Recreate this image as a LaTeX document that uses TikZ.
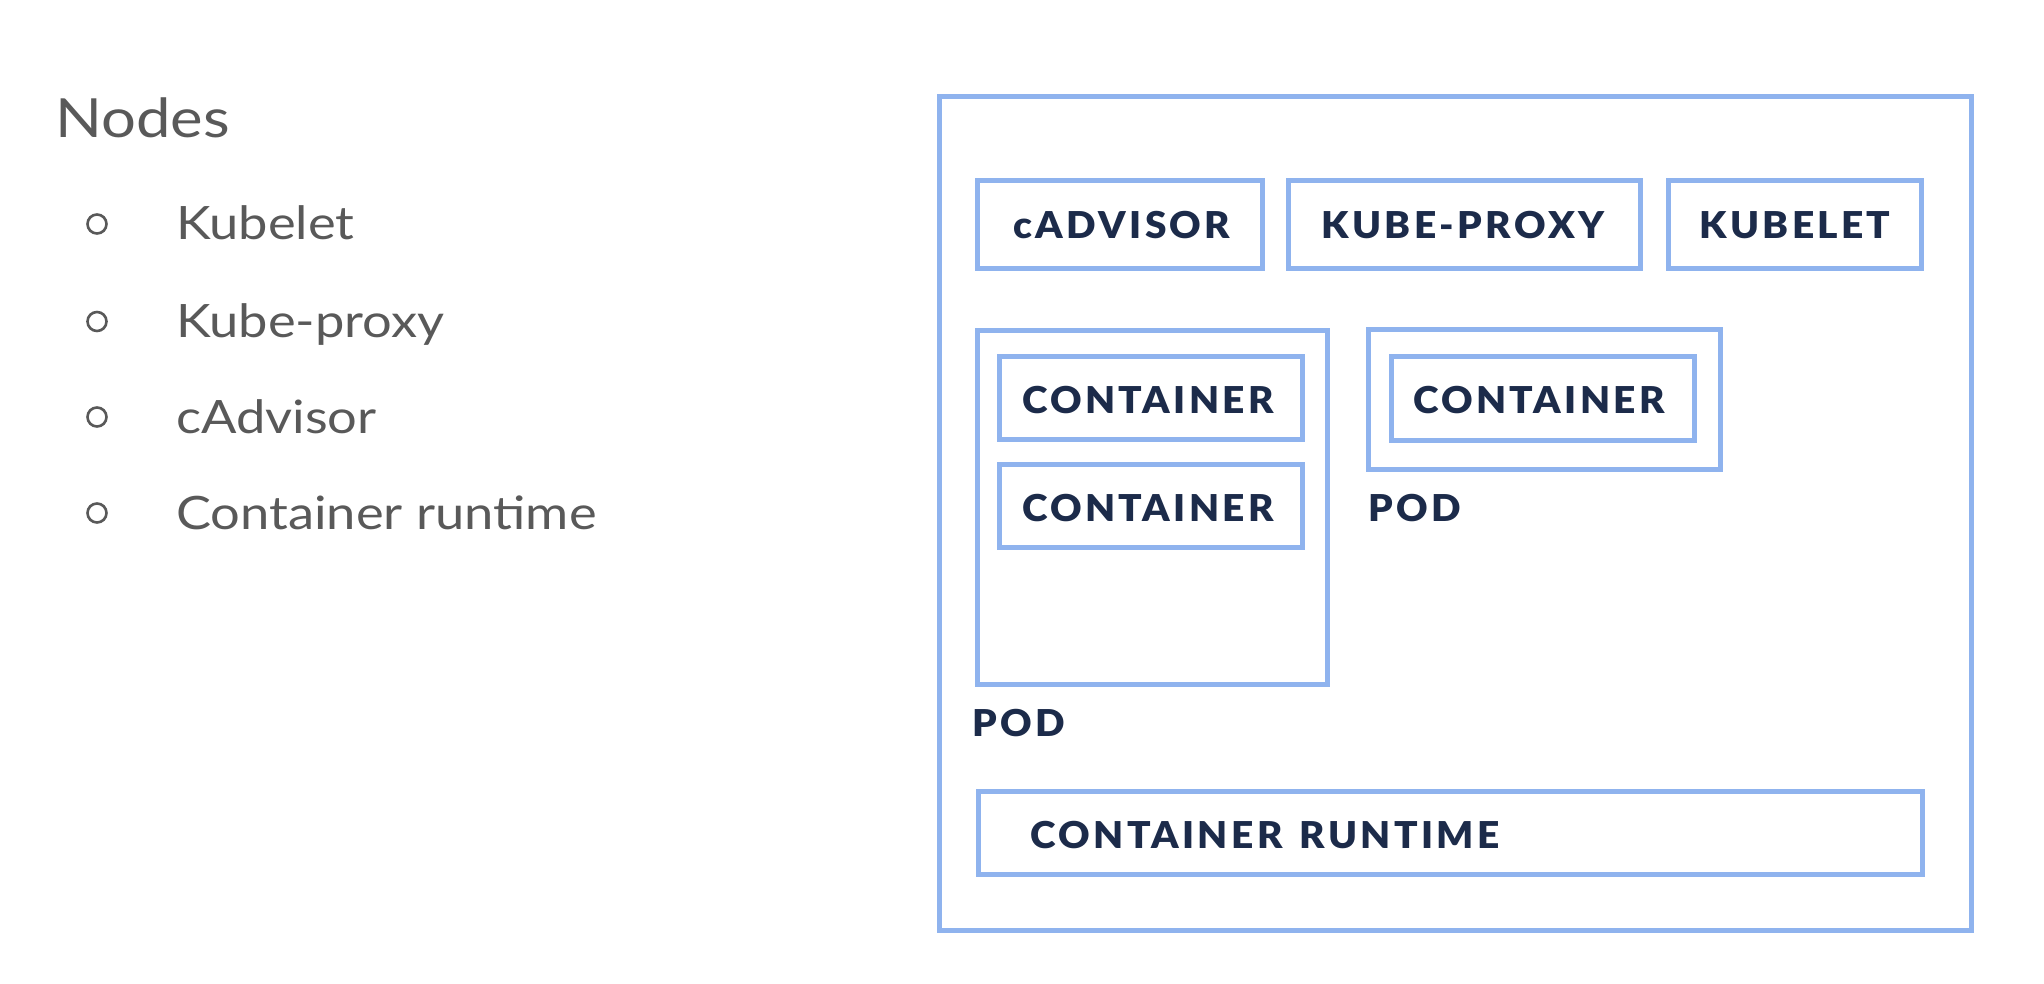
\documentclass[tikz,border=0pt]{standalone}
\usepackage{fontspec}
\setmainfont{Lato}[FakeStretch=1.14]
\newfontfamily\boxfont[LetterSpace=9,FakeStretch=1.05]{Lato Black}
\definecolor{kblue}{HTML}{8FB3EE}
\definecolor{knavy}{HTML}{1C2B4A}
\definecolor{kgrey}{HTML}{595959}
\tikzset{
  frame/.style={draw=kblue, line width=5pt, inner sep=0pt, outer sep=0pt, rectangle},
  lbl/.style={text=knavy, font=\boxfont\fontsize{37}{40}\selectfont, inner sep=0pt},
  item/.style={text=kgrey, font=\fontsize{46}{50}\selectfont, inner sep=0pt, anchor=base west},
  bul/.style={circle, draw=kgrey, line width=2.6pt, minimum width=19pt, minimum height=19pt, inner sep=0pt}
}
\begin{document}
\begin{tikzpicture}[x=1pt,y=-1pt]
\useasboundingbox (0,0) rectangle (2044,984);
% left list
\node[item, font=\fontsize{54}{58}\selectfont] (title) at (55,138) {Nodes};
\node[bul] (b1) at (97,224) {};
\node[bul] (b2) at (97,321.5) {};
\node[bul] (b3) at (97,417) {};
\node[bul] (b4) at (97,513) {};
\node[item] (t1) at (176,240) {Kubelet};
\node[item] (t2) at (176,337) {Kube-proxy};
\node[item] (t3) at (176,433) {cAdvisor};
\node[item] (t4) at (176,529) {Container runtime};
% diagram
\node[frame, minimum width=1032pt, minimum height=834pt] (node) at (1455.5,513.5) {};
\node[frame, minimum width=285pt, minimum height=88pt] (cadv) at (1120,224.5) {};
\node[lbl] (cadvt) at (1122,225) {cADVISOR};
\node[frame, minimum width=352pt, minimum height=88pt] (proxy) at (1464.5,224.5) {};
\node[lbl] (proxyt) at (1463,225) {KUBE-PROXY};
\node[frame, minimum width=253pt, minimum height=88pt] (kubelet) at (1795,224.5) {};
\node[lbl] (kubeltt) at (1795,225) {KUBELET};
\node[frame, minimum width=350pt, minimum height=354pt] (pod1) at (1152.5,507.5) {};
\node[frame, minimum width=302.5pt, minimum height=83pt] (c1a) at (1151,398) {};
\node[lbl] (c1at) at (1148,400) {CONTAINER};
\node[frame, minimum width=302.5pt, minimum height=83pt] (c1b) at (1151,506) {};
\node[lbl] (c1bt) at (1148,508) {CONTAINER};
\node[frame, minimum width=352pt, minimum height=140pt] (pod2) at (1544.5,399.5) {};
\node[frame, minimum width=303pt, minimum height=84pt] (c2) at (1543,398.5) {};
\node[lbl] (c2t) at (1539,400) {CONTAINER};
\node[lbl, anchor=west] (pod2t) at (1368,508) {POD};
\node[lbl, anchor=west] (pod1t) at (972,723) {POD};
\node[frame, minimum width=944.5pt, minimum height=83pt] (rt) at (1450.25,833) {};
\node[lbl, anchor=west] (rtt) at (1030.5,835) {CONTAINER\hspace{5pt} RUNTIME};
\end{tikzpicture}
\end{document}
